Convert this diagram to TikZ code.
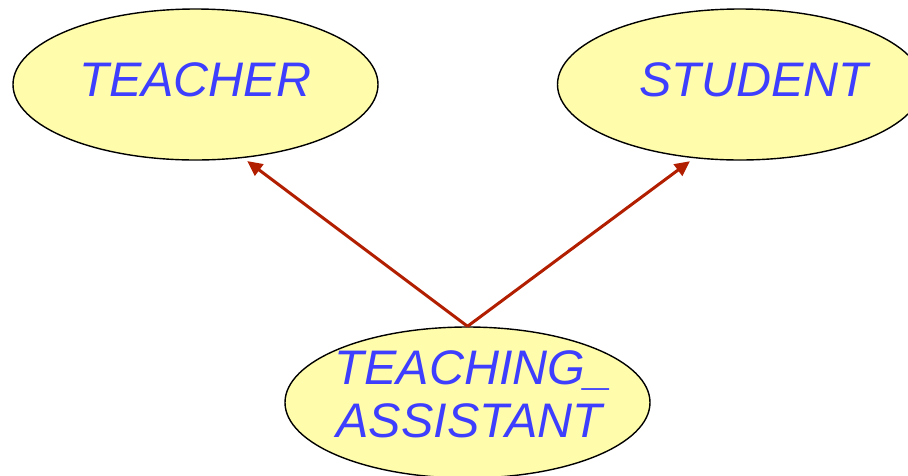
\documentclass[tikz,border=0pt]{standalone}
\usepackage{fontspec}
\setmainfont{Liberation Sans}
\usetikzlibrary{shapes.geometric,arrows.meta}
\definecolor{ellfill}{RGB}{255,252,172}
\definecolor{txtblue}{RGB}{62,62,255}
\definecolor{arrred}{RGB}{178,30,0}
\tikzset{
  ent/.style={ellipse, draw=black, line width=1.4pt, fill=ellfill,
    minimum width=365pt, minimum height=151pt, inner sep=0pt},
  lbl/.style={text=txtblue, font=\fontsize{48.5}{53}\selectfont\itshape, inner sep=0pt},
  isa/.style={draw=arrred, line width=3pt, -{Triangle[length=15pt,width=14pt]}, shorten >=5pt}
}
\begin{document}
\begin{tikzpicture}[x=1pt,y=1pt]
\useasboundingbox (0,0) rectangle (908,-475);
\node[ent, label={[lbl, yshift=4.5pt]center:TEACHER}] (teacher) at (195.5,-84.5) {};
\node[ent, label={[lbl, xshift=14pt, yshift=4.5pt]center:STUDENT}] (student) at (740,-84.5) {};
\node[ent, label={[lbl, align=center, xshift=2pt, yshift=8.5pt]center:\hspace*{8pt}TEACHING\_\\ASSISTANT}] (ta) at (467.5,-402.5) {};
\draw[isa] (ta.north) -- (teacher.-57);
\draw[isa] (ta.north) -- (student.-122);
\end{tikzpicture}
\end{document}
